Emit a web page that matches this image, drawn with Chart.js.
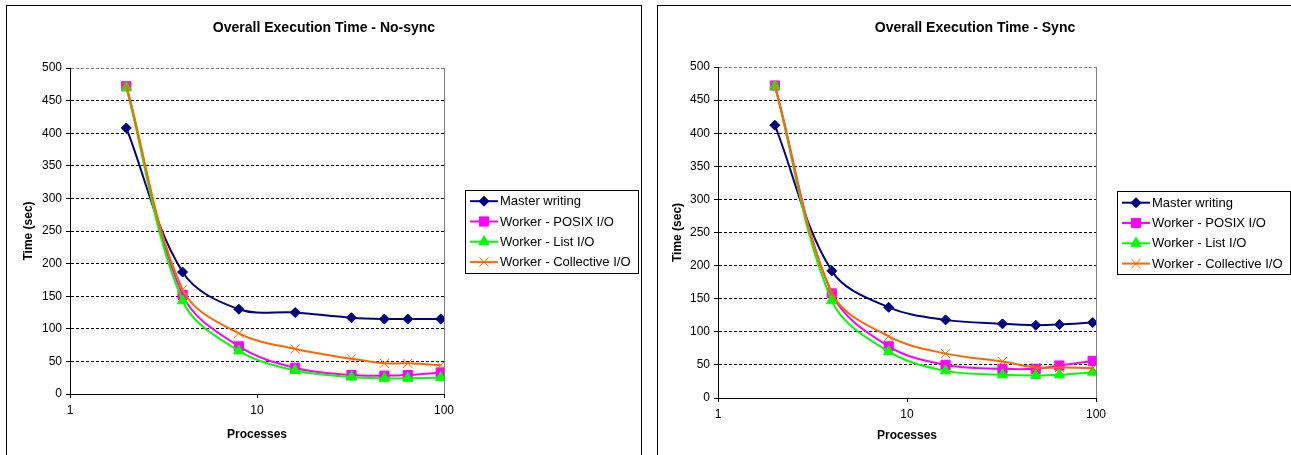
<!DOCTYPE html>
<html>
<head>
<meta charset="utf-8">
<script src="https://cdn.jsdelivr.net/npm/chart.js@4.4.1/dist/chart.umd.min.js"></script>
<style>
  body { margin: 0; background: #fff; width: 1291px; height: 455px; overflow: hidden; position: relative; }
  .frame { position: absolute; top: 5px; border: 1px solid #000; background: #fff; height: 460px; width: 634px; }
  #frame-nosync { left: 6px; }
  #frame-sync { left: 657px; }
  canvas { display: block; }
</style>
</head>
<body>
<div class="frame" id="frame-nosync"><canvas id="chart-nosync" width="634" height="449"></canvas></div>
<div class="frame" id="frame-sync"><canvas id="chart-sync" width="634" height="449"></canvas></div>
<script>
// --- DATA ---
const processes = [2, 4, 8, 16, 32, 48, 64, 96];
const seriesNames = ['Master writing', 'Worker - POSIX I/O', 'Worker - List I/O', 'Worker - Collective I/O'];
const xTicks = [1, 10, 100];

// No-sync run
const noSyncMaster = [408, 187, 130, 125, 117, 115, 115, 115];
const noSyncPosix = [472, 152, 73, 40, 29, 28, 29, 33];
const noSyncList = [470, 143, 66, 36, 26, 24, 24, 25];
const noSyncCollective = [473, 160, 93, 69, 54, 47, 47, 44];

// Sync run
const syncMaster = [412, 192, 137, 118, 112, 110, 111, 114];
const syncPosix = [472, 158, 78, 50, 44, 44, 49, 56];
const syncList = [471, 147, 70, 41, 35, 34, 35, 39];
const syncCollective = [472, 159, 93, 67, 55, 46, 46, 45];

// --- STYLES ---
const seriesStyle = [
    { color: '#000080', fill: '#000080', pointStyle: 'rectRot', radius: 5 },
    { color: '#FF00FF', fill: '#FF00FF', pointStyle: 'rect', radius: 6.5 },
    { color: '#00FF00', fill: '#00FF00', pointStyle: 'triangle', radius: 6 },
    { color: '#FF6600', fill: '#FF6600', pointStyle: 'crossRot', radius: 6.5 }
];
const FONT = "'Liberation Sans', Arial, sans-serif";

// legend drawn in Excel style: box with line + marker samples
const boxLegend = {
    id: 'boxLegend',
    afterDraw(chart) {
        const ctx = chart.ctx;
        const area = chart.chartArea;
        const w = 173, h = 83, rowGap = 20.3;
        const x0 = area.right + 21;
        const y0 = (area.top + area.bottom) / 2 - h / 2;
        ctx.save();
        ctx.strokeStyle = '#000';
        ctx.lineWidth = 1;
        ctx.strokeRect(Math.round(x0) + 0.5, Math.round(y0) + 0.5, w, h);
        ctx.font = '13px ' + FONT;
        ctx.textBaseline = 'middle';
        chart.data.datasets.forEach((ds, i) => {
            const st = seriesStyle[i];
            const y = y0 + 11.7 + i * rowGap;
            ctx.strokeStyle = st.color;
            ctx.lineWidth = 2;
            ctx.beginPath();
            ctx.moveTo(x0 + 5, y);
            ctx.lineTo(x0 + 33, y);
            ctx.stroke();
            ctx.fillStyle = st.fill;
            ctx.strokeStyle = st.color;
            ctx.lineWidth = 1;
            Chart.helpers.drawPoint(ctx, { pointStyle: st.pointStyle, radius: st.radius, rotation: 0, borderWidth: 1 }, x0 + 19, y);
            ctx.fillStyle = '#000';
            ctx.fillText(ds.label, x0 + 35, y + 0.5);
        });
        ctx.restore();
    }
};

function makeDatasets(values) {
    return values.map((vals, i) => ({
        label: seriesNames[i],
        data: processes.map((p, k) => ({ x: p, y: vals[k] })),
        borderColor: seriesStyle[i].color,
        backgroundColor: seriesStyle[i].fill,
        pointBackgroundColor: seriesStyle[i].fill,
        pointBorderColor: seriesStyle[i].color,
        pointStyle: seriesStyle[i].pointStyle,
        pointRadius: seriesStyle[i].radius,
        pointBorderWidth: 1,
        borderWidth: 2,
        tension: 0.35,
        order: 3 - i
    }));
}

function buildChart(canvasId, titleText, values, dims) {
    const ctx = document.getElementById(canvasId).getContext('2d');
    return new Chart(ctx, {
        type: 'line',
        data: { datasets: makeDatasets(values) },
        plugins: [boxLegend],
        options: {
            responsive: false,
            animation: false,
            devicePixelRatio: 1,
            layout: { padding: 0 },
            plugins: {
                legend: { display: false },
                tooltip: { enabled: false },
                title: {
                    display: true,
                    text: titleText,
                    color: '#000',
                    font: { family: FONT, size: 14, weight: 'bold', lineHeight: 1.2 },
                    padding: { top: 13.6, bottom: dims.titleBottom }
                }
            },
            scales: {
                x: {
                    type: 'logarithmic',
                    min: 1,
                    max: 100,
                    afterBuildTicks: s => { s.ticks = xTicks.map(v => ({ value: v })); },
                    afterFit: s => { s.height = dims.xHeight; },
                    ticks: { color: '#000', font: { family: FONT, size: 12 }, padding: 5, callback: v => String(v), maxRotation: 0 },
                    grid: {
                        color: c => (c.tick && c.tick.value === 100 ? '#808080' : 'rgba(0,0,0,0)'),
                        lineWidth: 1,
                        tickLength: 4,
                        tickColor: '#000'
                    },
                    border: { color: '#000', width: 1 },
                    title: {
                        display: true, text: 'Processes', color: '#000',
                        font: { family: FONT, size: 12, weight: 'bold', lineHeight: 1.2 },
                        padding: { top: 0, bottom: dims.xTitleBottom }
                    }
                },
                y: {
                    min: 0,
                    max: 500,
                    afterFit: s => { s.width = dims.yWidth; },
                    ticks: { stepSize: 50, color: '#000', font: { family: FONT, size: 12 }, padding: 4 },
                    grid: {
                        color: c => (c.tick && c.tick.value === 500 ? '#808080' : '#000'),
                        lineWidth: 1,
                        tickLength: 4,
                        tickColor: '#000',
                        tickBorderDash: []
                    },
                    border: { color: '#000', width: 1, dash: [3, 2] },
                    title: {
                        display: true, text: 'Time (sec)', color: '#000',
                        font: { family: FONT, size: 12, weight: 'bold', lineHeight: 1.2 },
                        padding: { top: dims.yTitleTop, bottom: 0 }
                    }
                },
                legendSpace: {
                    position: 'right',
                    display: true,
                    afterFit: s => { s.width = dims.rightSpace; },
                    ticks: { display: false },
                    grid: { display: false },
                    border: { display: false }
                }
            }
        }
    });
}

buildChart('chart-nosync', 'Overall Execution Time - No-sync',
    [noSyncMaster, noSyncPosix, noSyncList, noSyncCollective],
    { titleBottom: 31.6, xHeight: 61, xTitleBottom: 12.8, yWidth: 63, yTitleTop: 14.8, rightSpace: 197 });

buildChart('chart-sync', 'Overall Execution Time - Sync',
    [syncMaster, syncPosix, syncList, syncCollective],
    { titleBottom: 30.6, xHeight: 57, xTitleBottom: 11.8, yWidth: 60, yTitleTop: 12.8, rightSpace: 196 });
</script>
</body>
</html>
